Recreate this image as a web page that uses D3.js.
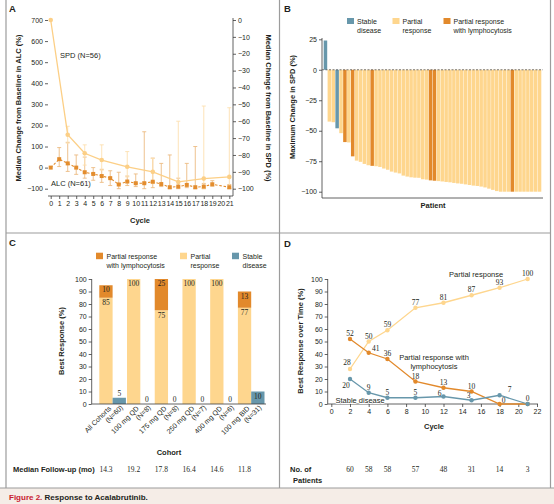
<!DOCTYPE html>
<html><head><meta charset="utf-8">
<script src="https://cdn.jsdelivr.net/npm/d3@7"></script>
<style>
body{margin:0;background:#fff;}
svg{display:block;font-family:"Liberation Sans",Arial,sans-serif;}
</style></head><body><svg id="c" width="554" height="504"></svg>
<script>
// ---------- DATA ----------
// Panel A
const aCycles = d3.range(0, 22);
const aLeftTicks = [-100, 0, 100, 200, 300, 400, 500, 600, 700];
const aRightTicks = [0, -10, -20, -30, -40, -50, -60, -70, -80, -90, -100];
const spdCycles = [0, 2, 4, 6, 9, 12, 15, 18, 21];
const spdMedian = [0, -68, -79, -83, -87, -90, -96, -94, -93];
const spdUpper  = [0, -63, -74, -74, -78, -82, -60, -51, -52];
const spdLower  = [0, -73, -86, -89, -93, -97, -99, -100, -100];
const alcCycles = [0, 1, 2, 3, 4, 5, 6, 7, 8, 9, 10, 11, 12, 13, 14, 15, 16, 17, 18, 19, 21];
const alcMedian = [0, 40, 20, 0, -22, -30, -40, -50, -80, -66, -74, -74, -67, -78, -93, -90, -82, -93, -90, -79, -93];
const alcUpper  = [0, 95, 120, 60, 50, 0, -8, -15, -22, -40, -30, 170, 45, 20, 60, -50, 20, 100, -75, -62, -80];
const alcLower  = [0, 5, -18, -32, -50, -60, -70, -85, -100, -85, -90, -100, -95, -90, -100, -100, -95, -100, -100, -88, -100];

// Panel B (waterfall, one bar per patient)
const bTicks = [25, 0, -25, -50, -75, -100];
const bValues = [24, -42.5, -43, -48, -52, -59.3, -59.6, -71, -74.5, -75.5, -77.2, -78.3, -78.8, -79.1, -79.7, -81, -82, -83.5, -84.3, -85, -86.8, -87.6, -88.2, -88.5, -88.6, -89.8, -90.1, -90.7, -91, -91.3, -91.6, -92, -92.3, -92.8, -93.2, -93.5, -94, -94.5, -95, -95.3, -95.8, -96.5, -97.5, -98.5, -99.5, -100, -100, -100, -100, -100, -100, -100, -100, -100, -100, -100];
const bStatus = ["SD","PR","PR","SD","PR","PRL","PR","PRL","PR","PR","PR","PR","PRL","PR","PR","PR","PR","PR","PR","PR","PR","PR","PR","PR","PR","PR","PR","PRL","PRL","PR","PR","PR","PR","PR","PR","PR","PR","PR","PR","PR","PR","PR","PR","PR","PR","PR","PR","PR","PRL","PR","PR","PR","PR","PR","PR","PR"];

// Panel C
const cohorts = ["All Cohorts", "100 mg QD", "175 mg QD", "250 mg QD", "400 mg QD", "100 mg BID"];
const cohortN = [60, 8, 8, 7, 6, 31];
const prVals  = [85, 100, 75, 100, 100, 77];
const prlVals = [10, 0, 25, 0, 0, 13];
const sdVals  = [5, 0, 0, 0, 0, 10];
const followUp = ["14.3", "19.2", "17.8", "16.4", "14.6", "11.8"];
const cTicks = d3.range(0, 101, 10);

// Panel D
const dCycles = [2, 4, 6, 9, 12, 15, 18, 21];
const dPR  = [28, 50, 59, 77, 81, 87, 93, 100];
const dPRL = [52, 41, 36, 18, 13, 10, 0, 0];
const dSD  = [20, 9, 5, 5, 6, 3, 7, 0];
const dPatients = [60, 58, 58, 57, 48, 31, 14, 3];
const dXTicks = d3.range(0, 23, 2);
const dYTicks = d3.range(0, 101, 10);

// ---------- STYLE ----------
const LIGHT = "#fed68e", DARK = "#e2892b", BLUE = "#6797ab";
const SPDC = "#fccf86", SPDERR = "#fde0b0", ALCC = "#e38d2e", ALCERR = "#ecbb82";
const FRAME = "#9c9c9c", AX = "#3a3a3a", TXT = "#231f20";
const SERIF = "'Liberation Serif','DejaVu Serif',serif";

const svg = d3.select("#c");

function styleAxis(g) {
  g.attr("font-size", 7).attr("font-family", null);
  g.selectAll("line").attr("stroke", AX).attr("stroke-width", 0.8);
  g.selectAll("path").attr("stroke", AX).attr("stroke-width", 0.8);
  g.selectAll("text").attr("fill", TXT);
}
function line(g, x1, y1, x2, y2, col, w, dash) {
  const l = g.append("line").attr("x1", x1).attr("y1", y1).attr("x2", x2).attr("y2", y2)
    .attr("stroke", col).attr("stroke-width", w);
  if (dash) l.attr("stroke-dasharray", dash);
  return l;
}
function text(g, x, y, s, opts = {}) {
  const t = g.append("text").attr("x", x).attr("y", y).text(s)
    .attr("font-size", opts.size || 7).attr("fill", opts.fill || TXT)
    .attr("text-anchor", opts.anchor || "start");
  if (opts.bold) t.attr("font-weight", "bold");
  if (opts.family) t.attr("font-family", opts.family);
  if (opts.rotate) t.attr("transform", `rotate(${opts.rotate},${x},${y})`);
  return t;
}

// ---------- FRAME ----------
svg.append("rect").attr("x", 0).attr("y", 488).attr("width", 554).attr("height", 16).attr("fill", "#f5ede7");
line(svg, 6, 0, 6, 488, FRAME, 1.2);
line(svg, 550.5, 0, 550.5, 488, FRAME, 1.2);
line(svg, 279.5, 0, 279.5, 488, FRAME, 1.2);
line(svg, 6, 233, 550.5, 233, FRAME, 1.2);
line(svg, 0, 488, 554, 488, FRAME, 1.2);
const cap = svg.append("text").attr("x", 9).attr("y", 500).attr("font-size", 8).attr("font-weight", "bold");
cap.append("tspan").attr("fill", "#c8202f").text("Figure 2.");
cap.append("tspan").attr("fill", TXT).text(" Response to Acalabrutinib.");

text(svg, 9, 12, "A", {size: 9.5, bold: true});
text(svg, 284, 12, "B", {size: 9.5, bold: true});
text(svg, 9, 246, "C", {size: 9.5, bold: true});
text(svg, 284, 247, "D", {size: 9.5, bold: true});

// ---------- PANEL A ----------
{
  const g = svg.append("g");
  const x = d3.scaleLinear().domain([0, 21]).range([50.7, 229.3]);
  const yL = d3.scaleLinear().domain([-100, 700]).range([188.7, 20]);
  const yR = d3.scaleLinear().domain([-100, 0]).range([188.7, 20]);

  g.append("g").attr("transform", "translate(48,0)")
    .call(d3.axisLeft(yL).tickValues(aLeftTicks).tickSize(3).tickPadding(2))
    .call(a => a.select(".domain").remove()).call(styleAxis);
  g.append("g").attr("transform", "translate(233,0)")
    .call(d3.axisRight(yR).tickValues(aRightTicks).tickSize(3).tickPadding(2))
    .call(a => a.select(".domain").remove()).call(styleAxis);
  g.append("g").attr("transform", "translate(0,196)")
    .call(d3.axisBottom(x).tickValues(aCycles).tickSize(3).tickPadding(2))
    .call(a => a.select(".domain").remove()).call(styleAxis);
  line(g, 48, 196, 233, 196, AX, 0.8);
  line(g, 233, 18, 233, 196, AX, 0.8);

  text(g, 21, 108, "Median Change from Baseline in ALC (%)", {size: 7.5, bold: true, anchor: "middle", rotate: -90});
  text(g, 266, 108, "Median Change from Baseline in SPD (%)", {size: 7.5, bold: true, anchor: "middle", rotate: 90});
  text(g, 140, 223, "Cycle", {size: 7.5, bold: true, anchor: "middle"});

  // ALC error bars
  alcCycles.forEach((c, i) => {
    if (alcUpper[i] === alcLower[i]) return;
    const xx = x(c);
    line(g, xx, yL(alcUpper[i]), xx, yL(alcLower[i]), ALCERR, 0.9);
    line(g, xx - 2, yL(alcUpper[i]), xx + 2, yL(alcUpper[i]), ALCERR, 0.9);
    line(g, xx - 2, yL(alcLower[i]), xx + 2, yL(alcLower[i]), ALCERR, 0.9);
  });
  // SPD error bars
  spdCycles.forEach((c, i) => {
    if (spdUpper[i] === spdLower[i]) return;
    const xx = x(c);
    line(g, xx, yR(spdUpper[i]), xx, yR(spdLower[i]), SPDERR, 0.9);
    line(g, xx - 2, yR(spdUpper[i]), xx + 2, yR(spdUpper[i]), SPDERR, 0.9);
    line(g, xx - 2, yR(spdLower[i]), xx + 2, yR(spdLower[i]), SPDERR, 0.9);
  });
  // SPD line
  g.append("path").datum(spdCycles.map((c, i) => [x(c), yR(spdMedian[i])]))
    .attr("d", d3.line()).attr("fill", "none").attr("stroke", SPDC).attr("stroke-width", 1.3);
  g.selectAll(".spdp").data(spdCycles).join("circle")
    .attr("cx", d => x(d)).attr("cy", (d, i) => yR(spdMedian[i])).attr("r", 2.3).attr("fill", SPDC);
  // ALC line
  g.append("path").datum(alcCycles.map((c, i) => [x(c), yL(alcMedian[i])]))
    .attr("d", d3.line()).attr("fill", "none").attr("stroke", ALCC).attr("stroke-width", 1.1)
    .attr("stroke-dasharray", "2.5,1.8");
  g.selectAll(".alcp").data(alcCycles).join("rect")
    .attr("x", d => x(d) - 2).attr("y", (d, i) => yL(alcMedian[i]) - 2)
    .attr("width", 4).attr("height", 4).attr("fill", ALCC);

  text(g, 60, 58, "SPD (N=56)", {size: 7.5});
  text(g, 51, 186, "ALC (N=61)", {size: 7.5});
}

// ---------- PANEL B ----------
{
  const g = svg.append("g");
  const x = d3.scaleBand().domain(d3.range(bValues.length)).range([323.7, 541.3]).paddingInner(0.1);
  const y = d3.scaleLinear().domain([-100, 25]).range([191.7, 39.3]);
  const col = {SD: BLUE, PR: LIGHT, PRL: DARK};

  g.selectAll("rect.bar").data(bValues).join("rect").attr("class", "bar")
    .attr("x", (d, i) => x(i)).attr("width", x.bandwidth())
    .attr("y", d => y(Math.max(0, d))).attr("height", d => Math.abs(y(d) - y(0)))
    .attr("fill", (d, i) => col[bStatus[i]]);

  g.append("g").attr("transform", "translate(322,0)")
    .call(d3.axisLeft(y).tickValues(bTicks).tickSize(3).tickPadding(2))
    .call(a => a.select(".domain").remove()).call(styleAxis);
  line(g, 322, 38, 322, 198, AX, 0.8);
  line(g, 322, 198, 543, 198, AX, 0.8);
  line(g, 322, y(0), 543, y(0), "#555", 0.8, "2,1.5");

  text(g, 295, 107, "Maximum Change in SPD (%)", {size: 7.5, bold: true, anchor: "middle", rotate: -90});
  text(g, 433, 208, "Patient", {size: 7.5, bold: true, anchor: "middle"});

  // legend
  const leg = [["Stable", "disease", BLUE, 347], ["Partial", "response", LIGHT, 392.5], ["Partial response", "with lymphocytosis", DARK, 443.5]];
  leg.forEach(([a, b, c, lx]) => {
    g.append("rect").attr("x", lx).attr("y", 18).attr("width", 7).attr("height", 6).attr("fill", c);
    text(g, lx + 10, 23.5, a, {size: 7});
    text(g, lx + 10, 32.5, b, {size: 7});
  });
}

// ---------- PANEL C ----------
{
  const g = svg.append("g");
  const x = d3.scaleBand().domain(cohorts).range([99.3, 264.5]).paddingInner(0.04);
  const sub = d3.scaleBand().domain(["resp", "sd"]).range([0, x.bandwidth()]);
  const y = d3.scaleLinear().domain([0, 100]).range([404, 279]);

  g.append("g").attr("transform", "translate(91.7,0)")
    .call(d3.axisLeft(y).tickValues(cTicks).tickSize(3).tickPadding(2))
    .call(a => a.select(".domain").remove()).call(styleAxis);
  line(g, 91.7, 279, 91.7, 404, AX, 0.8);

  cohorts.forEach((c, i) => {
    const bx = x(c) + sub("resp"), sx = x(c) + sub("sd"), w = sub.bandwidth();
    g.append("rect").attr("x", bx).attr("width", w).attr("y", y(prVals[i])).attr("height", y(0) - y(prVals[i])).attr("fill", LIGHT);
    if (prlVals[i] > 0) {
      g.append("rect").attr("x", bx).attr("width", w).attr("y", y(prVals[i] + prlVals[i]))
        .attr("height", y(prVals[i]) - y(prVals[i] + prlVals[i])).attr("fill", DARK);
      text(g, bx + w / 2, y(prVals[i] + prlVals[i]) + 7, String(prlVals[i]), {size: 7.5, anchor: "middle", family: SERIF});
      text(g, bx + w / 2, y(prVals[i]) + 7.5, String(prVals[i]), {size: 7.5, anchor: "middle", family: SERIF});
    } else {
      text(g, bx + w / 2, y(prVals[i]) + 6.8, String(prVals[i]), {size: 7.5, anchor: "middle", family: SERIF});
    }
    if (sdVals[i] > 0) {
      g.append("rect").attr("x", sx).attr("width", w).attr("y", y(sdVals[i])).attr("height", y(0) - y(sdVals[i])).attr("fill", BLUE);
    }
    const sy = sdVals[i] >= 10 ? y(sdVals[i]) + 7 : y(sdVals[i]) - 2;
    text(g, sx + w / 2, sy, String(sdVals[i]), {size: 7.5, anchor: "middle", family: SERIF});

    // rotated category label
    const cx = x(c) + x.bandwidth() / 2 - 1;
    const t = g.append("text").attr("transform", `translate(${cx},409) rotate(-45)`)
      .attr("text-anchor", "end").attr("font-size", 7).attr("fill", TXT);
    t.append("tspan").attr("x", 0).attr("dy", 0).text(c);
    t.append("tspan").attr("x", 9).attr("dy", "1.1em").text(`(N=${cohortN[i]})`);

    text(g, bx + w / 2, 472, followUp[i], {size: 7.5, anchor: "middle", family: SERIF});
  });
  line(g, 91.7, 404, 266, 404, AX, 0.8);

  text(g, 64, 341, "Best Response (%)", {size: 7.5, bold: true, anchor: "middle", rotate: -90});
  text(g, 169, 455, "Cohort", {size: 7.5, bold: true, anchor: "middle"});
  text(g, 13, 472, "Median Follow-up (mo)", {size: 7.5, bold: true});

  const leg = [["Partial response", "with lymphocytosis", DARK, 96], ["Partial", "response", LIGHT, 180], ["Stable", "disease", BLUE, 232]];
  leg.forEach(([a, b, c, lx]) => {
    g.append("rect").attr("x", lx).attr("y", 252.7).attr("width", 7).attr("height", 6.5).attr("fill", c);
    text(g, lx + 10.5, 258.5, a, {size: 7});
    text(g, lx + 10.5, 267.5, b, {size: 7});
  });
}

// ---------- PANEL D ----------
{
  const g = svg.append("g");
  const x = d3.scaleLinear().domain([0, 22]).range([331.3, 537]);
  const y = d3.scaleLinear().domain([0, 100]).range([404, 279]);

  g.append("g").attr("transform", "translate(327.7,0)")
    .call(d3.axisLeft(y).tickValues(dYTicks).tickSize(3).tickPadding(2))
    .call(a => a.select(".domain").remove()).call(styleAxis);
  line(g, 327.7, 279, 327.7, 404, AX, 0.8);
  g.append("g").attr("transform", "translate(0,404)")
    .call(d3.axisBottom(x).tickValues(dXTicks).tickSize(3).tickPadding(2))
    .call(a => a.select(".domain").remove()).call(styleAxis);
  line(g, 327.7, 404, 538, 404, AX, 0.8);

  text(g, 303, 341, "Best Response over Time (%)", {size: 7.5, bold: true, anchor: "middle", rotate: -90});
  text(g, 434, 429, "Cycle", {size: 7.5, bold: true, anchor: "middle"});

  const series = [[dPR, LIGHT], [dPRL, DARK], [dSD, BLUE]];
  series.forEach(([vals, c]) => {
    g.append("path").datum(dCycles.map((cy, i) => [x(cy), y(vals[i])]))
      .attr("d", d3.line()).attr("fill", "none").attr("stroke", c).attr("stroke-width", 1.3);
  });
  series.forEach(([vals, c]) => {
    g.selectAll(null).data(dCycles).join("circle")
      .attr("cx", d => x(d)).attr("cy", (d, i) => y(vals[i])).attr("r", 2.2).attr("fill", c);
  });

  // value labels (offsets are layout only)
  const prOff  = [[-3, -4], [0, -3], [0, -3], [0, -3], [0, -3], [0, -3], [0, -3], [0, -3]];
  const prlOff = [[0, -3], [7, -1.5], [0, -3], [0, -3], [0, -3], [0, -3], [4, -1], null];
  const sdOff  = [[-4, 8.5], [0, -3], [0, -3], [0, -3], [-4, -1], [-3, -2], [10, -3.5], [0, -3]];
  [[dPR, prOff], [dPRL, prlOff], [dSD, sdOff]].forEach(([vals, offs]) => {
    dCycles.forEach((cy, i) => {
      if (!offs[i]) return;
      text(g, x(cy) + offs[i][0], y(vals[i]) + offs[i][1], String(vals[i]), {size: 7.5, anchor: "middle", family: SERIF});
    });
  });

  text(g, 449, 277, "Partial response", {size: 7.5});
  text(g, 434, 359.5, "Partial response with", {size: 7.5, anchor: "middle"});
  text(g, 434, 369, "lymphocytosis", {size: 7.5, anchor: "middle"});
  const sd = text(g, 335.5, 402.5, "Stable disease", {size: 7.5});
  sd.attr("paint-order", "stroke").attr("stroke", "#fff").attr("stroke-width", 2);

  text(g, 290, 472, "No. of", {size: 7.5, bold: true});
  text(g, 293, 483, "Patients", {size: 7.5, bold: true});
  dCycles.forEach((cy, i) => text(g, x(cy), 472, String(dPatients[i]), {size: 7.5, anchor: "middle", family: SERIF}));
}
</script></body></html>
